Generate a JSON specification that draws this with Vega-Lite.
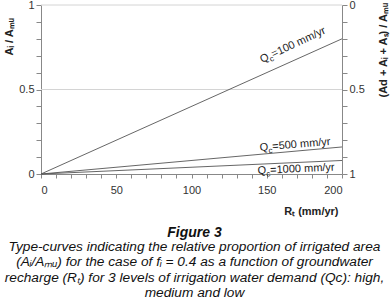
{
  "$schema": "https://vega.github.io/schema/vega-lite/v6.json",
  "width": 301,
  "height": 169,
  "autosize": {"type": "none"},
  "padding": {"left": 41, "top": 5, "right": 48, "bottom": 129},
  "config": {
    "view": {"stroke": null},
    "font": "Liberation Sans",
    "axis": {
      "labelFont": "Liberation Sans",
      "labelFontSize": 11,
      "labelColor": "#333",
      "domainColor": "#888",
      "tickColor": "#888",
      "grid": false,
      "titleFont": "Liberation Sans",
      "titleFontSize": 11,
      "titleFontWeight": "bold",
      "titleColor": "#222"
    }
  },
  "title": {
    "text": "Figure 3",
    "subtitle": [
      "Type-curves indicating the relative proportion of irrigated area",
      "(Aᵢ/Aₘᵤ) for the case of fᵢ = 0.4 as a function of groundwater",
      "recharge (Rₜ) for 3 levels of irrigation water demand (Qc): high,",
      "medium and low"
    ],
    "orient": "bottom",
    "anchor": "middle",
    "frame": "group",
    "font": "Liberation Sans",
    "fontSize": 14,
    "fontStyle": "italic",
    "fontWeight": "bold",
    "color": "#111",
    "subtitleFont": "Liberation Sans",
    "subtitleFontSize": 13.7,
    "subtitleFontStyle": "italic",
    "subtitleColor": "#111",
    "subtitleLineHeight": 15.4,
    "subtitlePadding": 0,
    "offset": 10,
    "dx": 3
  },
  "datasets": {
    "lines": [
      {"R": 0, "v": 0, "q": "100"},
      {"R": 200, "v": 0.8, "q": "100"},
      {"R": 0, "v": 0, "q": "500"},
      {"R": 200, "v": 0.16, "q": "500"},
      {"R": 0, "v": 0, "q": "1000"},
      {"R": 200, "v": 0.08, "q": "1000"}
    ],
    "grid": [{"r": 0.5}, {"r": 0}],
    "labels": [
      {"q": "100", "x": 146.8, "y": 0.657, "pre": "Q", "sub": "c", "post": "=100 mm/yr"},
      {"q": "500", "x": 145.5, "y": 0.136, "pre": "Q", "sub": "c", "post": "=500 mm/yr"},
      {"q": "1000", "x": 144, "y": 0.0, "pre": "Q", "sub": "c", "post": "=1000 mm/yr"}
    ]
  },
  "resolve": {"scale": {"x": "independent", "y": "independent"}},
  "layer": [
    {
      "data": {"name": "grid"},
      "mark": {"type": "rule", "color": "#d4d4d4", "strokeWidth": 1},
      "encoding": {
        "y": {
          "field": "r",
          "type": "quantitative",
          "scale": {"domain": [0, 1], "reverse": true, "nice": false, "zero": false},
          "axis": {
            "orient": "right",
            "values": [0, 0.1, 0.2, 0.3, 0.4, 0.5, 0.6, 0.7, 0.8, 0.9, 1],
            "labelExpr": "datum.value == 0 ? '0' : datum.value == 0.5 ? '0.5' : datum.value == 1 ? '1' : ''",
            "tickSize": 5,
            "labelPadding": 2,
            "labelBaseline": "middle",
            "title": "(Ad + Aᵢ + Aₛ) / Aₘᵤ",
            "titleAngle": 270,
            "titleAlign": "left",
            "titleBaseline": "middle",
            "titleX": 41,
            "titleY": 92
          }
        }
      }
    },
    {
      "data": {"name": "lines"},
      "mark": {"type": "line", "color": "#555", "strokeWidth": 0.9},
      "encoding": {
        "x": {
          "field": "R",
          "type": "quantitative",
          "scale": {"domain": [0, 200], "nice": false},
          "axis": {
            "values": [0, 10, 20, 30, 40, 50, 60, 70, 80, 90, 100, 110, 120, 130, 140, 150, 160, 170, 180, 190, 200],
            "labelExpr": "datum.value % 50 == 0 ? datum.label : ''",
            "tickSize": 4,
            "labelPadding": 6,
            "title": "Rₜ (mm/yr)",
            "titleAnchor": "end",
            "titleAlign": "right",
            "titleBaseline": "alphabetic",
            "titleX": 297,
            "titleY": 40
          }
        },
        "y": {
          "field": "v",
          "type": "quantitative",
          "scale": {"domain": [0, 1], "nice": false},
          "axis": {
            "orient": "left",
            "values": [0, 0.1, 0.2, 0.3, 0.4, 0.5, 0.6, 0.7, 0.8, 0.9, 1],
            "labelExpr": "datum.value == 0 ? '0' : datum.value == 0.5 ? '0.5' : datum.value == 1 ? '1' : ''",
            "tickSize": 5,
            "labelPadding": 2,
            "title": "Aᵢ / Aₘᵤ",
            "titleAngle": 270,
            "titleAlign": "left",
            "titleBaseline": "middle",
            "titleX": -32,
            "titleY": 50
          }
        },
        "detail": {"field": "q"}
      }
    },
    {
      "data": {"name": "labels"},
      "transform": [{"filter": "datum.q == '100'"}],
      "encoding": {
        "x": {"field": "x", "type": "quantitative", "scale": {"domain": [0, 200], "nice": false}, "axis": null},
        "y": {"field": "y", "type": "quantitative", "scale": {"domain": [0, 1], "nice": false}, "axis": null}
      },
      "layer": [
        {"mark": {"type": "text", "align": "left", "baseline": "alphabetic", "angle": -25, "fontSize": 11, "color": "#222"}, "encoding": {"text": {"field": "pre"}}},
        {"mark": {"type": "text", "align": "left", "baseline": "alphabetic", "angle": -25, "fontSize": 8, "dx": 8.6, "dy": 3, "color": "#222"}, "encoding": {"text": {"field": "sub"}}},
        {"mark": {"type": "text", "align": "left", "baseline": "alphabetic", "angle": -25, "fontSize": 11, "dx": 12.6, "color": "#222"}, "encoding": {"text": {"field": "post"}}}
      ]
    },
    {
      "data": {"name": "labels"},
      "transform": [{"filter": "datum.q == '500'"}],
      "encoding": {
        "x": {"field": "x", "type": "quantitative", "scale": {"domain": [0, 200], "nice": false}, "axis": null},
        "y": {"field": "y", "type": "quantitative", "scale": {"domain": [0, 1], "nice": false}, "axis": null}
      },
      "layer": [
        {"mark": {"type": "text", "align": "left", "baseline": "alphabetic", "angle": -5, "fontSize": 11, "color": "#222"}, "encoding": {"text": {"field": "pre"}}},
        {"mark": {"type": "text", "align": "left", "baseline": "alphabetic", "angle": -5, "fontSize": 8, "dx": 8.6, "dy": 3, "color": "#222"}, "encoding": {"text": {"field": "sub"}}},
        {"mark": {"type": "text", "align": "left", "baseline": "alphabetic", "angle": -5, "fontSize": 11, "dx": 12.6, "color": "#222"}, "encoding": {"text": {"field": "post"}}}
      ]
    },
    {
      "data": {"name": "labels"},
      "transform": [{"filter": "datum.q == '1000'"}],
      "encoding": {
        "x": {"field": "x", "type": "quantitative", "scale": {"domain": [0, 200], "nice": false}, "axis": null},
        "y": {"field": "y", "type": "quantitative", "scale": {"domain": [0, 1], "nice": false}, "axis": null}
      },
      "layer": [
        {"mark": {"type": "text", "align": "left", "baseline": "alphabetic", "angle": -2.6, "fontSize": 11, "color": "#222"}, "encoding": {"text": {"field": "pre"}}},
        {"mark": {"type": "text", "align": "left", "baseline": "alphabetic", "angle": -2.6, "fontSize": 8, "dx": 8.6, "dy": 3, "color": "#222"}, "encoding": {"text": {"field": "sub"}}},
        {"mark": {"type": "text", "align": "left", "baseline": "alphabetic", "angle": -2.6, "fontSize": 11, "dx": 12.6, "color": "#222"}, "encoding": {"text": {"field": "post"}}}
      ]
    }
  ]
}
